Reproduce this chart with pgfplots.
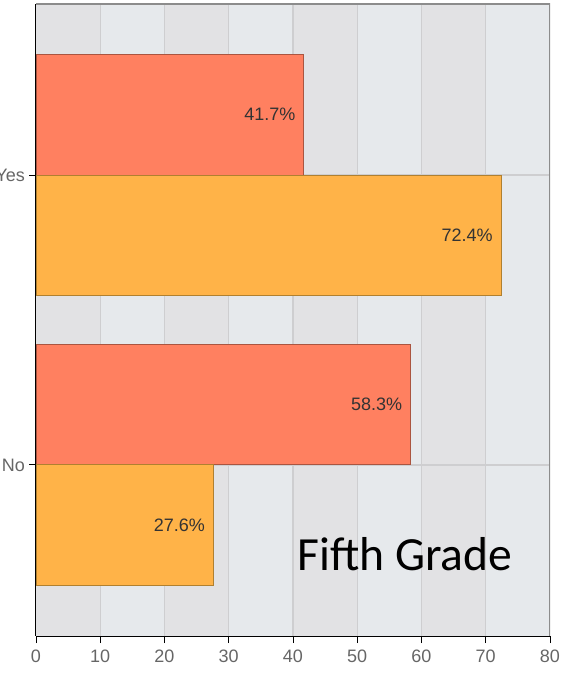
\documentclass[border=0pt]{standalone}
\usepackage{pgfplots}
\pgfplotsset{compat=1.18}
\usepackage{fontspec}
\setmainfont{Liberation Sans}
\newfontfamily\calibri{Carlito}
\definecolor{bandA}{RGB}{226,226,228}
\definecolor{bandB}{RGB}{230,233,236}
\definecolor{redbar}{RGB}{255,128,96}
\definecolor{redline}{RGB}{170,85,64}
\definecolor{orbar}{RGB}{255,179,72}
\definecolor{orline}{RGB}{176,128,48}
\definecolor{gridc}{RGB}{206,206,208}
\definecolor{tickc}{RGB}{102,102,102}
\begin{document}
\begin{tikzpicture}
\begin{axis}[
  at={(0,0)}, anchor=south west,
  scale only axis, width=257pt, height=316pt,
  xmin=0, xmax=80, ymin=-0.59, ymax=1.59,
  xtick={0,10,...,80}, ytick={0,1}, yticklabels={No,Yes},
  axis x line*=bottom, axis y line*=left,
  axis line style={black, line width=0.6pt},
  tick align=outside, major tick length=3.5pt,
  tick style={black, line width=0.5pt},
  ticklabel style={font=\fontsize{9}{10}\selectfont, text=tickc},
  yticklabel style={xshift=1.5pt},
  /pgf/number format/assume math mode=true,
  xbar, bar width=0.417,
  point meta=x,
  nodes near coords={\pgfmathprintnumber[fixed,fixed zerofill,precision=1]{\pgfplotspointmeta}\%},
  nodes near coords style={anchor=east, inner sep=0pt, xshift=-4pt, font=\fontsize{9}{10}\selectfont, text=black!80},
]
\fill[bandA] (axis cs:0,-0.59) rectangle (axis cs:10,1.59);
\fill[bandB] (axis cs:10,-0.59) rectangle (axis cs:20,1.59);
\fill[bandA] (axis cs:20,-0.59) rectangle (axis cs:30,1.59);
\fill[bandB] (axis cs:30,-0.59) rectangle (axis cs:40,1.59);
\fill[bandA] (axis cs:40,-0.59) rectangle (axis cs:50,1.59);
\fill[bandB] (axis cs:50,-0.59) rectangle (axis cs:60,1.59);
\fill[bandA] (axis cs:60,-0.59) rectangle (axis cs:70,1.59);
\fill[bandB] (axis cs:70,-0.59) rectangle (axis cs:80,1.59);
\foreach \g in {10,20,30,40,50,60,70} {
  \edef\tmp{\noexpand\draw[gridc, line width=0.6pt] (axis cs:\g,-0.59) -- (axis cs:\g,1.59);}\tmp
}
\draw[gridc, line width=0.6pt] (axis cs:0,0) -- (axis cs:80,0);
\draw[gridc, line width=0.6pt] (axis cs:0,1) -- (axis cs:80,1);
\addplot[fill=redbar, draw=redline, line width=0.5pt, bar shift=0.2085] coordinates {(41.7,1) (58.3,0)};
\addplot[fill=orbar, draw=orline, line width=0.5pt, bar shift=-0.2085] coordinates {(72.4,1) (27.6,0)};
\draw[black!45, line width=0.6pt] (rel axis cs:0,1) -- (rel axis cs:1,1) -- (rel axis cs:1,0);
\node[font=\calibri\fontsize{23.8}{28}\selectfont, anchor=center] at (axis cs:57.4,-0.307) {Fifth Grade};
\end{axis}
\pgfresetboundingbox
\useasboundingbox (-18pt,-18.5pt) rectangle (271.5pt,318pt);
\end{tikzpicture}
\end{document}
